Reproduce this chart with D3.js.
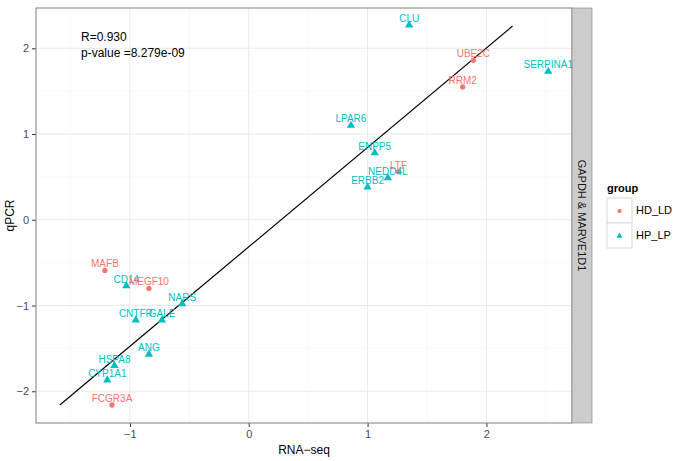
<!DOCTYPE html>
<html>
<head>
<meta charset="utf-8">
<script src="https://cdn.jsdelivr.net/npm/d3@7/dist/d3.min.js"></script>
<style>
body{margin:0;background:#fff;}
svg{font-family:"Liberation Sans",Arial,sans-serif;display:block;}
</style>
</head>
<body>
<svg id="chart" width="675" height="461"></svg>
<script>
const genes = ["CLU","UBE2C","RRM2","SERPINA1","LPAR6","ENPP5","LTF","NEDD4L","ERBB2",
  "MAFB","CD14","MEGF10","NARS","CNTFR","GALE","ANG","HSPA8","CYP1A1","FCGR3A"];
const groups = ["HP_LP","HD_LD","HD_LD","HP_LP","HP_LP","HP_LP","HD_LD","HP_LP","HP_LP",
  "HD_LD","HP_LP","HD_LD","HP_LP","HP_LP","HP_LP","HP_LP","HP_LP","HP_LP","HD_LD"];
const rnaSeq = [1.35,1.89,1.80,2.52,0.86,1.06,1.26,1.17,1.00,
  -1.21,-1.03,-0.84,-0.56,-0.95,-0.73,-0.84,-1.13,-1.19,-1.15];
const qpcr = [2.27,1.86,1.55,1.73,1.10,0.78,0.56,0.49,0.38,
  -0.59,-0.77,-0.80,-0.98,-1.17,-1.17,-1.57,-1.70,-1.87,-2.16];
const fitX = [-1.59,2.22];
const fitY = [-2.16,2.26];
const groupNames = ["HD_LD","HP_LP"];
const groupColors = ["#F8766D","#00BFC4"];
const xTicks = [-1,0,1,2];
const yTicks = [-2,-1,0,1,2];
const statLines = ["R=0.930","p-value =8.279e-09"];
const stripLabel = "GAPDH & MARVE1D1";

const svg = d3.select("#chart");
const panel = {left:36, top:8, right:572, bottom:423};

const x = d3.scaleLinear().domain([-1.79,2.72]).range([panel.left,panel.right]);
const y = d3.scaleLinear().domain([-2.37,2.47]).range([panel.bottom,panel.top]);
const color = d3.scaleOrdinal().domain(groupNames).range(groupColors);

const g = svg.append("g");

// grid
const minorX = d3.range(-1.5,2.75,1), minorY = d3.range(-1.5,2.5,1);
g.selectAll(".mx").data(minorX).enter().append("line")
  .attr("x1",d=>x(d)).attr("x2",d=>x(d)).attr("y1",panel.top).attr("y2",panel.bottom)
  .attr("stroke","#f5f5f5").attr("stroke-width",0.6);
g.selectAll(".my").data(minorY).enter().append("line")
  .attr("y1",d=>y(d)).attr("y2",d=>y(d)).attr("x1",panel.left).attr("x2",panel.right)
  .attr("stroke","#f5f5f5").attr("stroke-width",0.6);
g.selectAll(".gx").data(xTicks).enter().append("line")
  .attr("x1",d=>x(d)).attr("x2",d=>x(d)).attr("y1",panel.top).attr("y2",panel.bottom)
  .attr("stroke","#ebebeb").attr("stroke-width",1);
g.selectAll(".gy").data(yTicks).enter().append("line")
  .attr("y1",d=>y(d)).attr("y2",d=>y(d)).attr("x1",panel.left).attr("x2",panel.right)
  .attr("stroke","#ebebeb").attr("stroke-width",1);

// axes
const xAxis = svg.append("g").attr("transform",`translate(0,${panel.bottom})`)
  .call(d3.axisBottom(x).tickValues(xTicks).tickSize(4).tickPadding(3).tickFormat(d3.format("d")));
const yAxis = svg.append("g").attr("transform",`translate(${panel.left},0)`)
  .call(d3.axisLeft(y).tickValues(yTicks).tickSize(4).tickPadding(3).tickFormat(d=>d<0?"\u2212"+Math.abs(d):d));
[xAxis,yAxis].forEach(a=>{
  a.select(".domain").remove();
  a.selectAll(".tick line").attr("stroke","#333").attr("stroke-width",1);
  a.selectAll(".tick text").attr("fill","#4d4d4d").style("font-size","11px");
});

// border
svg.append("rect").attr("x",panel.left).attr("y",panel.top)
  .attr("width",panel.right-panel.left).attr("height",panel.bottom-panel.top)
  .attr("fill","none").attr("stroke","#7f7f7f").attr("stroke-width",1);

// strip
svg.append("rect").attr("x",panel.right).attr("y",panel.top)
  .attr("width",20).attr("height",panel.bottom-panel.top)
  .attr("fill","#cccccc").attr("stroke","#7f7f7f").attr("stroke-width",0.6);
svg.append("text").attr("transform",`translate(${panel.right+10},${(panel.top+panel.bottom)/2}) rotate(90)`)
  .attr("text-anchor","middle").attr("dy","0.35em").style("font-size","11px").attr("fill","#1a1a1a")
  .text(stripLabel);

// fit line
svg.append("line").attr("x1",x(fitX[0])).attr("y1",y(fitY[0]))
  .attr("x2",x(fitX[1])).attr("y2",y(fitY[1])).attr("stroke","#000").attr("stroke-width",1.2);

// points
const pts = genes.map((n,i)=>({name:n,group:groups[i],x:rnaSeq[i],y:qpcr[i]}));
const tri = d3.symbol().type(d3.symbolTriangle).size(30);
const dot = d3.symbol().type(d3.symbolCircle).size(22);
svg.selectAll(".pt").data(pts).enter().append("path")
  .attr("transform",d=>`translate(${x(d.x)},${y(d.y)})`)
  .attr("d",d=>d.group==="HD_LD"?dot():tri())
  .attr("fill",d=>color(d.group));
svg.selectAll(".lab").data(pts).enter().append("text")
  .attr("x",d=>x(d.x)).attr("y",d=>y(d.y)-3)
  .attr("text-anchor","middle").style("font-size","10px")
  .attr("fill",d=>color(d.group)).text(d=>d.name);

// stats text
svg.selectAll(".stat").data(statLines).enter().append("text")
  .attr("x",81).attr("y",(d,i)=>41+i*16).style("font-size","12px").attr("fill","#000").text(d=>d);

// axis titles
svg.append("text").attr("x",(panel.left+panel.right)/2).attr("y",454)
  .attr("text-anchor","middle").style("font-size","12px").attr("fill","#000").text("RNA\u2212seq");
svg.append("text").attr("transform",`translate(14,${(panel.top+panel.bottom)/2}) rotate(-90)`)
  .attr("text-anchor","middle").style("font-size","12px").attr("fill","#000").text("qPCR");

// legend
const leg = svg.append("g").attr("transform","translate(607,198)");
leg.append("text").attr("x",0).attr("y",-6).style("font-size","11px").style("font-weight","bold").text("group");
groupNames.forEach((gname,i)=>{
  const k = leg.append("g").attr("transform",`translate(0,${i*25})`);
  k.append("rect").attr("width",25).attr("height",25).attr("fill","#fff").attr("stroke","#d9d9d9");
  k.append("path").attr("transform","translate(12.5,13)")
    .attr("d",(i===0?dot.size(14):tri.size(16))()).attr("fill",groupColors[i]);
  k.append("text").attr("x",29).attr("y",12.5).attr("dy","0.35em").style("font-size","11px").text(gname);
});
</script>
</body>
</html>
